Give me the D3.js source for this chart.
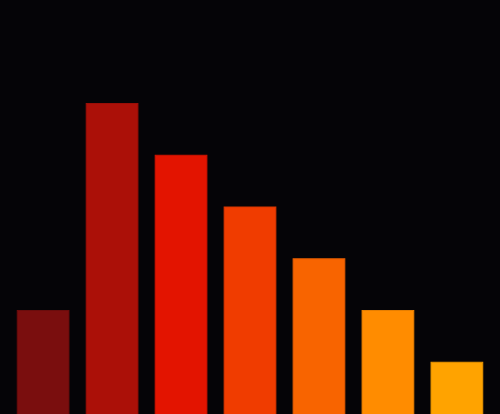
<!DOCTYPE html>
<html>
<head>
<meta charset="utf-8">
<script src="https://cdn.jsdelivr.net/npm/d3@7"></script>
<style>
  html, body { margin: 0; padding: 0; background: #050407; }
  svg { display: block; }
</style>
</head>
<body>
<div class="chart"></div>
<script>
const w = 500;
const h = 414;

const categories = ["A", "B", "C", "D", "E", "F", "G"];
const values = [2, 6, 5, 4, 3, 2, 1];
const colors = ["#7a0e0e", "#ab1008", "#e31400", "#f03c00", "#f86400", "#ff8c00", "#ffa300"];
const strokes = ["#6a0c0c", "#9a0e07", "#cc1200", "#d83600", "#e05a00", "#e67e00", "#e69300"];

const frame = d3.select(".chart")
    .append("svg")
    .attr("width", w)
    .attr("height", h);

frame.append("rect")
    .attr("width", w)
    .attr("height", h)
    .attr("fill", "#050407");

const x = d3.scaleBand()
    .domain(categories)
    .range([0, w])
    .padding(0.25);

const y = d3.scaleLinear()
    .domain([0, 8])
    .range([h, 0]);

// bars
frame.selectAll("rect.bar")
    .data(values)
    .enter()
    .append("rect")
    .attr("class", "bar")
    .attr("x", function (d, i) { return x(categories[i]); })
    .attr("y", function (d) { return y(d); })
    .attr("width", x.bandwidth())
    .attr("height", function (d) { return h - y(d) + 2; })
    .style("fill", function (d, i) { return colors[i]; })
    .style("stroke", function (d, i) { return strokes[i]; })
    .style("stroke-width", 1);
</script>
</body>
</html>
